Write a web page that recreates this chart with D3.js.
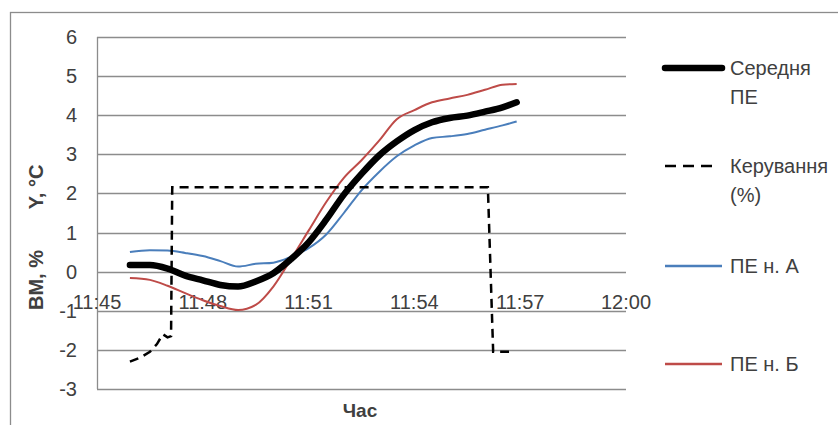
<!DOCTYPE html>
<html>
<head>
<meta charset="utf-8">
<script src="https://cdn.jsdelivr.net/npm/d3@7"></script>
<style>
  body { margin: 0; background: #fff; }
  text { font-family: "Liberation Sans", Arial, sans-serif; fill: #404040; }
  .grid line { stroke: #8c8c8c; stroke-width: 1.3; }
</style>
</head>
<body>
<div id="chart"></div>
<script>
const width = 838,
    height = 425;

// sampled times for the three temperature series
const times = ["11:45:56","11:46:30","11:47:00","11:47:30","11:48:00","11:48:30","11:49:00","11:49:30",
    "11:50:00","11:50:30","11:51:00","11:51:30","11:52:00","11:52:30","11:53:00","11:53:30",
    "11:54:00","11:54:30","11:55:00","11:55:30","11:56:00","11:56:30","11:56:54"];

const avgPE = [0.17,0.17,0.08,-0.1,-0.22,-0.34,-0.38,-0.25,-0.04,0.32,0.75,1.33,1.97,2.5,2.97,3.33,3.62,3.82,3.93,3.99,4.09,4.2,4.33];
const peA   = [0.5,0.55,0.54,0.48,0.4,0.27,0.13,0.2,0.23,0.38,0.6,0.95,1.5,2.08,2.55,2.95,3.23,3.42,3.46,3.52,3.63,3.74,3.84];
const peB   = [-0.16,-0.21,-0.36,-0.55,-0.73,-0.88,-0.98,-0.85,-0.38,0.32,1.05,1.78,2.4,2.85,3.35,3.9,4.13,4.33,4.43,4.52,4.65,4.78,4.8];

// control signal (its own time points)
const ctrlTimes  = ["11:45:56","11:46:13","11:46:30","11:46:42","11:46:52","11:47:00","11:47:06","11:47:08","11:56:05","11:56:14","11:56:41"];
const ctrlValues = [-2.3,-2.2,-2.05,-1.85,-1.6,-1.68,-1.65,2.16,2.16,-2.05,-2.05];

const xTicks = ["11:45","11:48","11:51","11:54","11:57","12:00"];
const yTicks = [-3,-2,-1,0,1,2,3,4,5,6];

const seriesNames = ["Середня ПЕ", "Керування (%)", "ПЕ н. А", "ПЕ н. Б"];

const parse = d3.timeParse("%H:%M:%S");
const parseHM = d3.timeParse("%H:%M");

const svg = d3.select("#chart").append("svg")
    .attr("width", width)
    .attr("height", height);

// outer chart frame
svg.append("rect")
    .attr("x", 10.5).attr("y", 12.5)
    .attr("width", 900).attr("height", 500)
    .attr("fill", "none").attr("stroke", "#8c8c8c").attr("stroke-width", 1.3);

const x = d3.scaleTime()
    .domain([parseHM("11:45"), parseHM("12:00")])
    .range([97, 626]);

const y = d3.scaleLinear()
    .domain([-3, 6])
    .range([389, 37]);

// gridlines
svg.append("g").attr("class", "grid")
    .selectAll("line").data(yTicks).join("line")
    .attr("x1", 97).attr("x2", 626)
    .attr("y1", d => Math.round(y(d)) + 0.5).attr("y2", d => Math.round(y(d)) + 0.5);

svg.append("line")
    .attr("x1", 97.5).attr("x2", 97.5)
    .attr("y1", y(6)).attr("y2", y(-3))
    .attr("stroke", "#8c8c8c").attr("stroke-width", 1.3);

// y tick labels
svg.append("g").selectAll("text").data(yTicks).join("text")
    .attr("x", 77)
    .attr("y", d => y(d) + 7)
    .attr("text-anchor", "end")
    .attr("font-size", 20)
    .text(d => d);

// x tick labels sit under the zero line
svg.append("g").selectAll("text").data(xTicks).join("text")
    .attr("x", d => x(parseHM(d)))
    .attr("y", y(0) + 37)
    .attr("text-anchor", "middle")
    .attr("font-size", 20)
    .text(d => d);

// axis titles
svg.append("text")
    .attr("transform", "translate(43,280) rotate(-90)")
    .attr("text-anchor", "middle")
    .attr("font-size", 20).attr("font-weight", "bold")
    .text("ВМ, %");
svg.append("text")
    .attr("transform", "translate(43,187) rotate(-90)")
    .attr("text-anchor", "middle")
    .attr("font-size", 20).attr("font-weight", "bold")
    .text("Y, °С");
svg.append("text")
    .attr("x", 360).attr("y", 417)
    .attr("text-anchor", "middle")
    .attr("font-size", 19).attr("font-weight", "bold")
    .text("Час");

const line = d3.line()
    .x(d => x(d[0]))
    .y(d => y(d[1]))
    .curve(d3.curveMonotoneX);

const pts = vals => times.map((t, i) => [parse(t), vals[i]]);

svg.append("path").datum(pts(peA))
    .attr("d", line).attr("fill", "none")
    .attr("stroke", "#4a7ebb").attr("stroke-width", 2);

svg.append("path").datum(pts(peB))
    .attr("d", line).attr("fill", "none")
    .attr("stroke", "#be4b48").attr("stroke-width", 2);

svg.append("path").datum(pts(avgPE))
    .attr("d", line).attr("fill", "none")
    .attr("stroke", "#000").attr("stroke-width", 6.5)
    .attr("stroke-linecap", "round");

svg.append("path").datum(ctrlTimes.map((t, i) => [parse(t), ctrlValues[i]]))
    .attr("d", d3.line().x(d => x(d[0])).y(d => y(d[1])))
    .attr("fill", "none")
    .attr("stroke", "#000").attr("stroke-width", 2.5)
    .attr("stroke-dasharray", "9,6");

// legend
const legend = [
    {name: seriesNames[0], y: 68, color: "#000", w: 6.5, dash: null, lines: ["Середня", "ПЕ"]},
    {name: seriesNames[1], y: 166, color: "#000", w: 2.5, dash: "11,7", lines: ["Керування", "(%)"]},
    {name: seriesNames[2], y: 266, color: "#4a7ebb", w: 2.5, dash: null, lines: ["ПЕ н. А"]},
    {name: seriesNames[3], y: 364, color: "#be4b48", w: 2.5, dash: null, lines: ["ПЕ н. Б"]}
];

const lg = svg.append("g").selectAll("g").data(legend).join("g");
lg.append("line")
    .attr("x1", 665).attr("x2", d => d.dash ? 713 : 722)
    .attr("y1", d => d.y).attr("y2", d => d.y)
    .attr("stroke", d => d.color)
    .attr("stroke-width", d => d.w)
    .attr("stroke-linecap", d => d.w > 3 ? "round" : "butt")
    .attr("stroke-dasharray", d => d.dash);
lg.append("text")
    .attr("x", 730)
    .attr("y", d => d.y + 7)
    .attr("font-size", 20)
    .selectAll("tspan").data(d => d.lines).join("tspan")
    .attr("x", 730)
    .attr("dy", (d, i) => i ? 29 : 0)
    .text(d => d);
</script>
</body>
</html>
